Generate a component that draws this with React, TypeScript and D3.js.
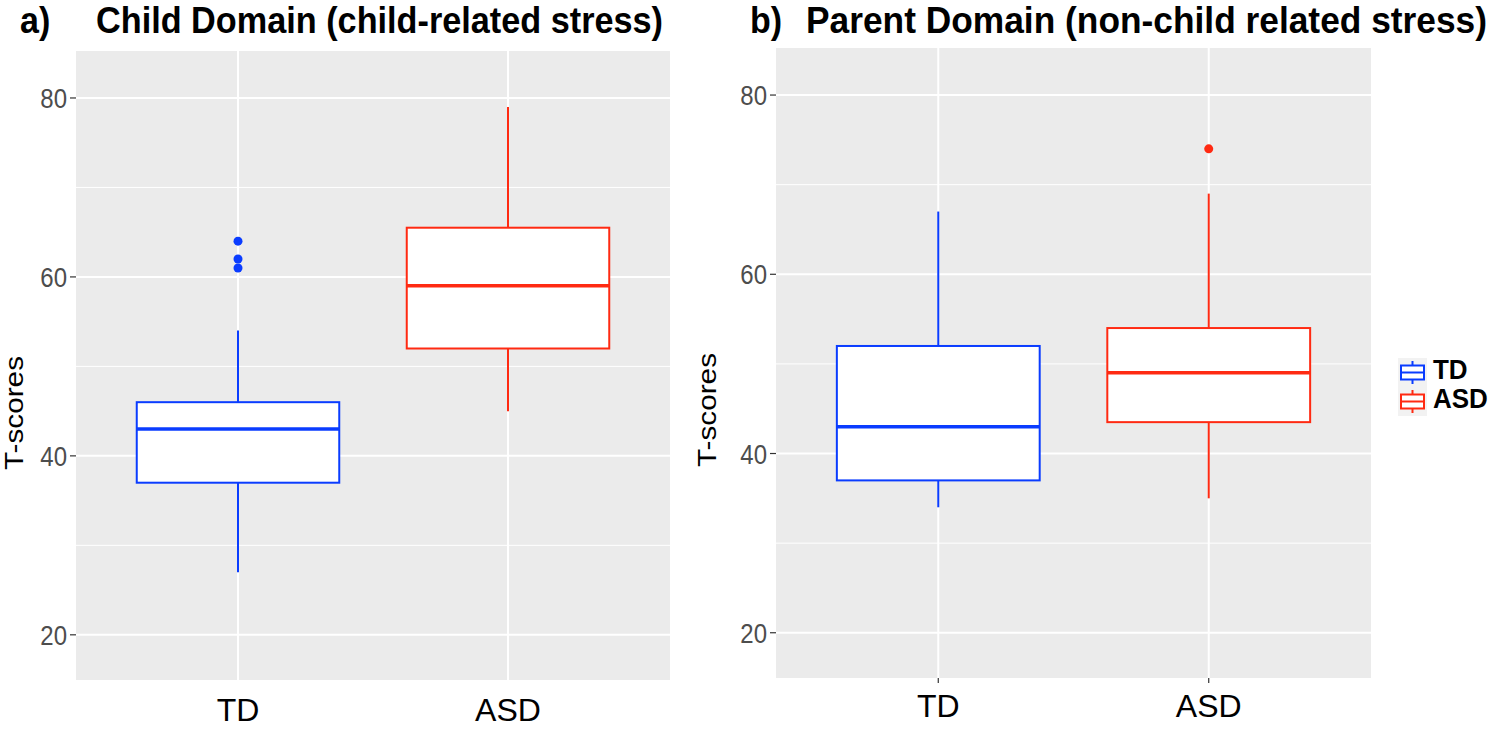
import React from "react";
import * as d3 from "d3";

const categories = ["TD", "ASD"];
const colors = ["#0a3cff", "#ff2a12"];

// Panel a: Child Domain
const childLower = [27, 45];
const childQ1 = [37, 52];
const childMedian = [43, 59];
const childQ3 = [46, 65.5];
const childUpper = [54, 79];
const childOutliers = [[61, 62, 64], []];

// Panel b: Parent Domain
const parentLower = [34, 35];
const parentQ1 = [37, 43.5];
const parentMedian = [43, 49];
const parentQ3 = [52, 54];
const parentUpper = [67, 69];
const parentOutliers = [[], [74]];

const majorTicks = [20, 40, 60, 80];
const minorTicks = [30, 50, 70];
const yDomain = [14.95, 85.25];

const FONT = "'Liberation Sans', Arial, Helvetica, sans-serif";

type PanelProps = {
  left: number;
  right: number;
  top: number;
  bottom: number;
  letter: string;
  letterX: number;
  title: string;
  titleX: number;
  titleLen: number;
  yTitleX: number;
  yTitleY: number;
  xLabelBaseline: number;
  xTicks: boolean;
  lower: number[];
  q1: number[];
  median: number[];
  q3: number[];
  upper: number[];
  outliers: number[][];
};

function Panel(p: PanelProps) {
  const x = d3.scalePoint<string>().domain(categories).range([p.left, p.right]).padding(0.6);
  const y = d3.scaleLinear().domain(yDomain).range([p.bottom, p.top]);
  const step = x.step();
  const halfW = (step * 0.75) / 2;
  return (
    <g>
      <g transform={`translate(${p.letterX},33) scale(1,1.08)`}>
        <text x={0} y={0} fontFamily={FONT} fontWeight="bold" fontSize={34} fill="#000">
          {p.letter}
        </text>
      </g>
      <g transform={`translate(${p.titleX},33) scale(1,1.08)`}>
        <text
          x={0}
          y={0}
          fontFamily={FONT}
          fontWeight="bold"
          fontSize={34}
          fill="#000"
          textLength={p.titleLen}
          lengthAdjust="spacingAndGlyphs"
        >
          {p.title}
        </text>
      </g>
      <rect x={p.left} y={p.top} width={p.right - p.left} height={p.bottom - p.top} fill="#EBEBEB" />
      {minorTicks.map((t) => (
        <line key={"mn" + t} x1={p.left} x2={p.right} y1={y(t)} y2={y(t)} stroke="#fff" strokeWidth={1} />
      ))}
      {majorTicks.map((t) => (
        <line key={"mj" + t} x1={p.left} x2={p.right} y1={y(t)} y2={y(t)} stroke="#fff" strokeWidth={2} />
      ))}
      {categories.map((c) => (
        <line key={"vg" + c} x1={x(c)} x2={x(c)} y1={p.top} y2={p.bottom} stroke="#fff" strokeWidth={2} />
      ))}
      {majorTicks.map((t) => (
        <g key={"yt" + t}>
          <line x1={p.left - 6} x2={p.left} y1={y(t)} y2={y(t)} stroke="#333" strokeWidth={1.2} />
          <g transform={`translate(${p.left - 9},${y(t) + 10}) scale(1,1.15)`}>
            <text x={0} y={0} textAnchor="end" fontFamily={FONT} fontSize={24} fill="#4D4D4D">
              {t}
            </text>
          </g>
        </g>
      ))}
      {categories.map((c) => (
        <g key={"xt" + c}>
          {p.xTicks && (
            <line x1={x(c)} x2={x(c)} y1={p.bottom} y2={p.bottom + 5} stroke="#333" strokeWidth={1.2} />
          )}
          <text
            x={x(c)}
            y={p.xLabelBaseline}
            textAnchor="middle"
            fontFamily={FONT}
            fontSize={32}
            fill="#000"
          >
            {c}
          </text>
        </g>
      ))}
      <text
        transform={`translate(${p.yTitleX},${p.yTitleY}) rotate(-90)`}
        textAnchor="middle"
        fontFamily={FONT}
        fontSize={25}
        fill="#000"
        textLength={114}
        lengthAdjust="spacingAndGlyphs"
      >
        T-scores
      </text>
      {categories.map((c, i) => {
        const cx = x(c) as number;
        const col = colors[i];
        return (
          <g key={"box" + c}>
            <line x1={cx} x2={cx} y1={y(p.q3[i])} y2={y(p.upper[i])} stroke={col} strokeWidth={2} />
            <line x1={cx} x2={cx} y1={y(p.q1[i])} y2={y(p.lower[i])} stroke={col} strokeWidth={2} />
            <rect
              x={cx - halfW}
              y={y(p.q3[i])}
              width={halfW * 2}
              height={y(p.q1[i]) - y(p.q3[i])}
              fill="#fff"
              stroke={col}
              strokeWidth={2}
            />
            <line
              x1={cx - halfW}
              x2={cx + halfW}
              y1={y(p.median[i])}
              y2={y(p.median[i])}
              stroke={col}
              strokeWidth={3.5}
            />
            {p.outliers[i].map((o, j) => (
              <circle key={j} cx={cx} cy={y(o)} r={4.5} fill={col} />
            ))}
          </g>
        );
      })}
    </g>
  );
}

function Legend() {
  const keyX = 1398;
  const keyY = 358;
  const keyS = 29;
  return (
    <g>
      {categories.map((c, i) => {
        const ky = keyY + i * keyS;
        const cx = keyX + keyS / 2;
        const cy = ky + keyS / 2;
        const col = colors[i];
        return (
          <g key={"lg" + c}>
            <rect x={keyX} y={ky} width={keyS} height={keyS} fill="#F2F2F2" />
            <line x1={cx} x2={cx} y1={ky + 3} y2={ky + keyS - 3} stroke={col} strokeWidth={2} />
            <rect x={keyX + 3} y={cy - 7} width={keyS - 6} height={14} fill="#fff" stroke={col} strokeWidth={2} />
            <line x1={keyX + 3} x2={keyX + keyS - 3} y1={cy} y2={cy} stroke={col} strokeWidth={2} />
            <g transform={`translate(1433,${ky + 21}) scale(1,1.08)`}>
              <text x={0} y={0} fontFamily={FONT} fontWeight="bold" fontSize={26} fill="#000">
                {c}
              </text>
            </g>
          </g>
        );
      })}
    </g>
  );
}

export default function App() {
  return (
    <svg
      width={1493}
      height={729}
      style={{ position: "absolute", left: 0, top: 0, display: "block", background: "#fff" }}
    >
      <Panel
        left={76}
        right={670}
        top={51}
        bottom={680}
        letter="a)"
        letterX={20}
        title="Child Domain (child-related stress)"
        titleX={96}
        titleLen={567}
        yTitleX={23}
        yTitleY={413}
        xLabelBaseline={721}
        xTicks={false}
        lower={childLower}
        q1={childQ1}
        median={childMedian}
        q3={childQ3}
        upper={childUpper}
        outliers={childOutliers}
      />
      <Panel
        left={776}
        right={1371}
        top={48}
        bottom={678}
        letter="b)"
        letterX={750}
        title="Parent Domain (non-child related stress)"
        titleX={806}
        titleLen={681}
        yTitleX={716}
        yTitleY={410}
        xLabelBaseline={717}
        xTicks={true}
        lower={parentLower}
        q1={parentQ1}
        median={parentMedian}
        q3={parentQ3}
        upper={parentUpper}
        outliers={parentOutliers}
      />
      <Legend />
    </svg>
  );
}
